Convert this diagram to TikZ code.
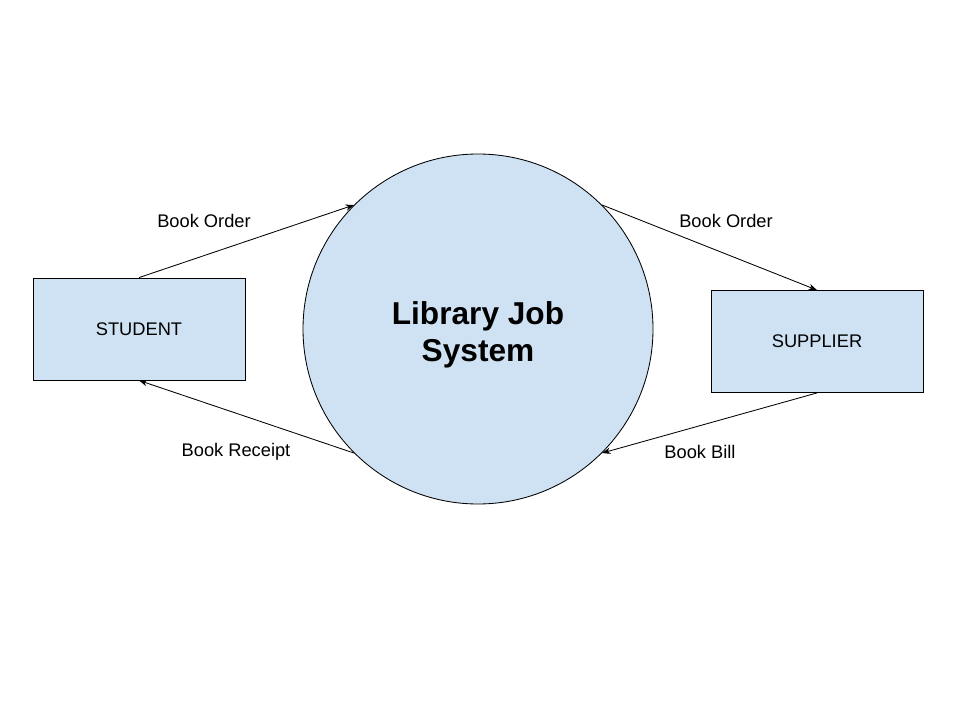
\documentclass[tikz,border=0pt]{standalone}
\usepackage{fontspec}
\setmainfont{Liberation Sans}
\usetikzlibrary{arrows.meta}

\definecolor{procblue}{HTML}{CFE2F3}

\tikzset{
	entity/.style={draw, line width=0.6pt, fill=procblue, minimum width=5.3cm, minimum height=2.55cm, font=\fontsize{13}{15}\selectfont},
	process/.style={draw, line width=0.6pt, circle, fill=procblue, minimum size=8.75cm, inner sep=0pt},
	title/.style={align=center, font=\fontsize{22.5}{26}\selectfont\bfseries},
	flow/.style={-{Stealth[length=6pt,width=4.5pt]}, line width=0.6pt},
	flowlabel/.style={font=\fontsize{13}{15}\selectfont}
}

\begin{document}
\begin{tikzpicture}
			\useasboundingbox (0,0) rectangle (24,18);

			% external entities and the process
			\node[entity] (student) at (3.475,9.775) {STUDENT};
			\node[entity] (supplier) at (20.425,9.4625) {SUPPLIER};
			\node[process] (system) at (11.95,9.775) {};
			\node[title] (systemname) at ([yshift=-0.14cm]system.center) {Library Job\\System};

			% data flows
			\draw[flow] (student.north) -- (system.135);
			\draw[flow] (system.45) -- (supplier.north);
			\draw[flow] (supplier.south) -- (system.315);
			\draw[flow] (system.225) -- (student.south);

			\node[flowlabel] (orderin) at (5.1,12.47) {Book Order};
			\node[flowlabel] (orderout) at (18.15,12.47) {Book Order};
			\node[flowlabel] (receipt) at (5.9,6.7) {Book Receipt};
			\node[flowlabel] (bill) at (17.5,6.7) {Book Bill};
		\end{tikzpicture}
\end{document}
